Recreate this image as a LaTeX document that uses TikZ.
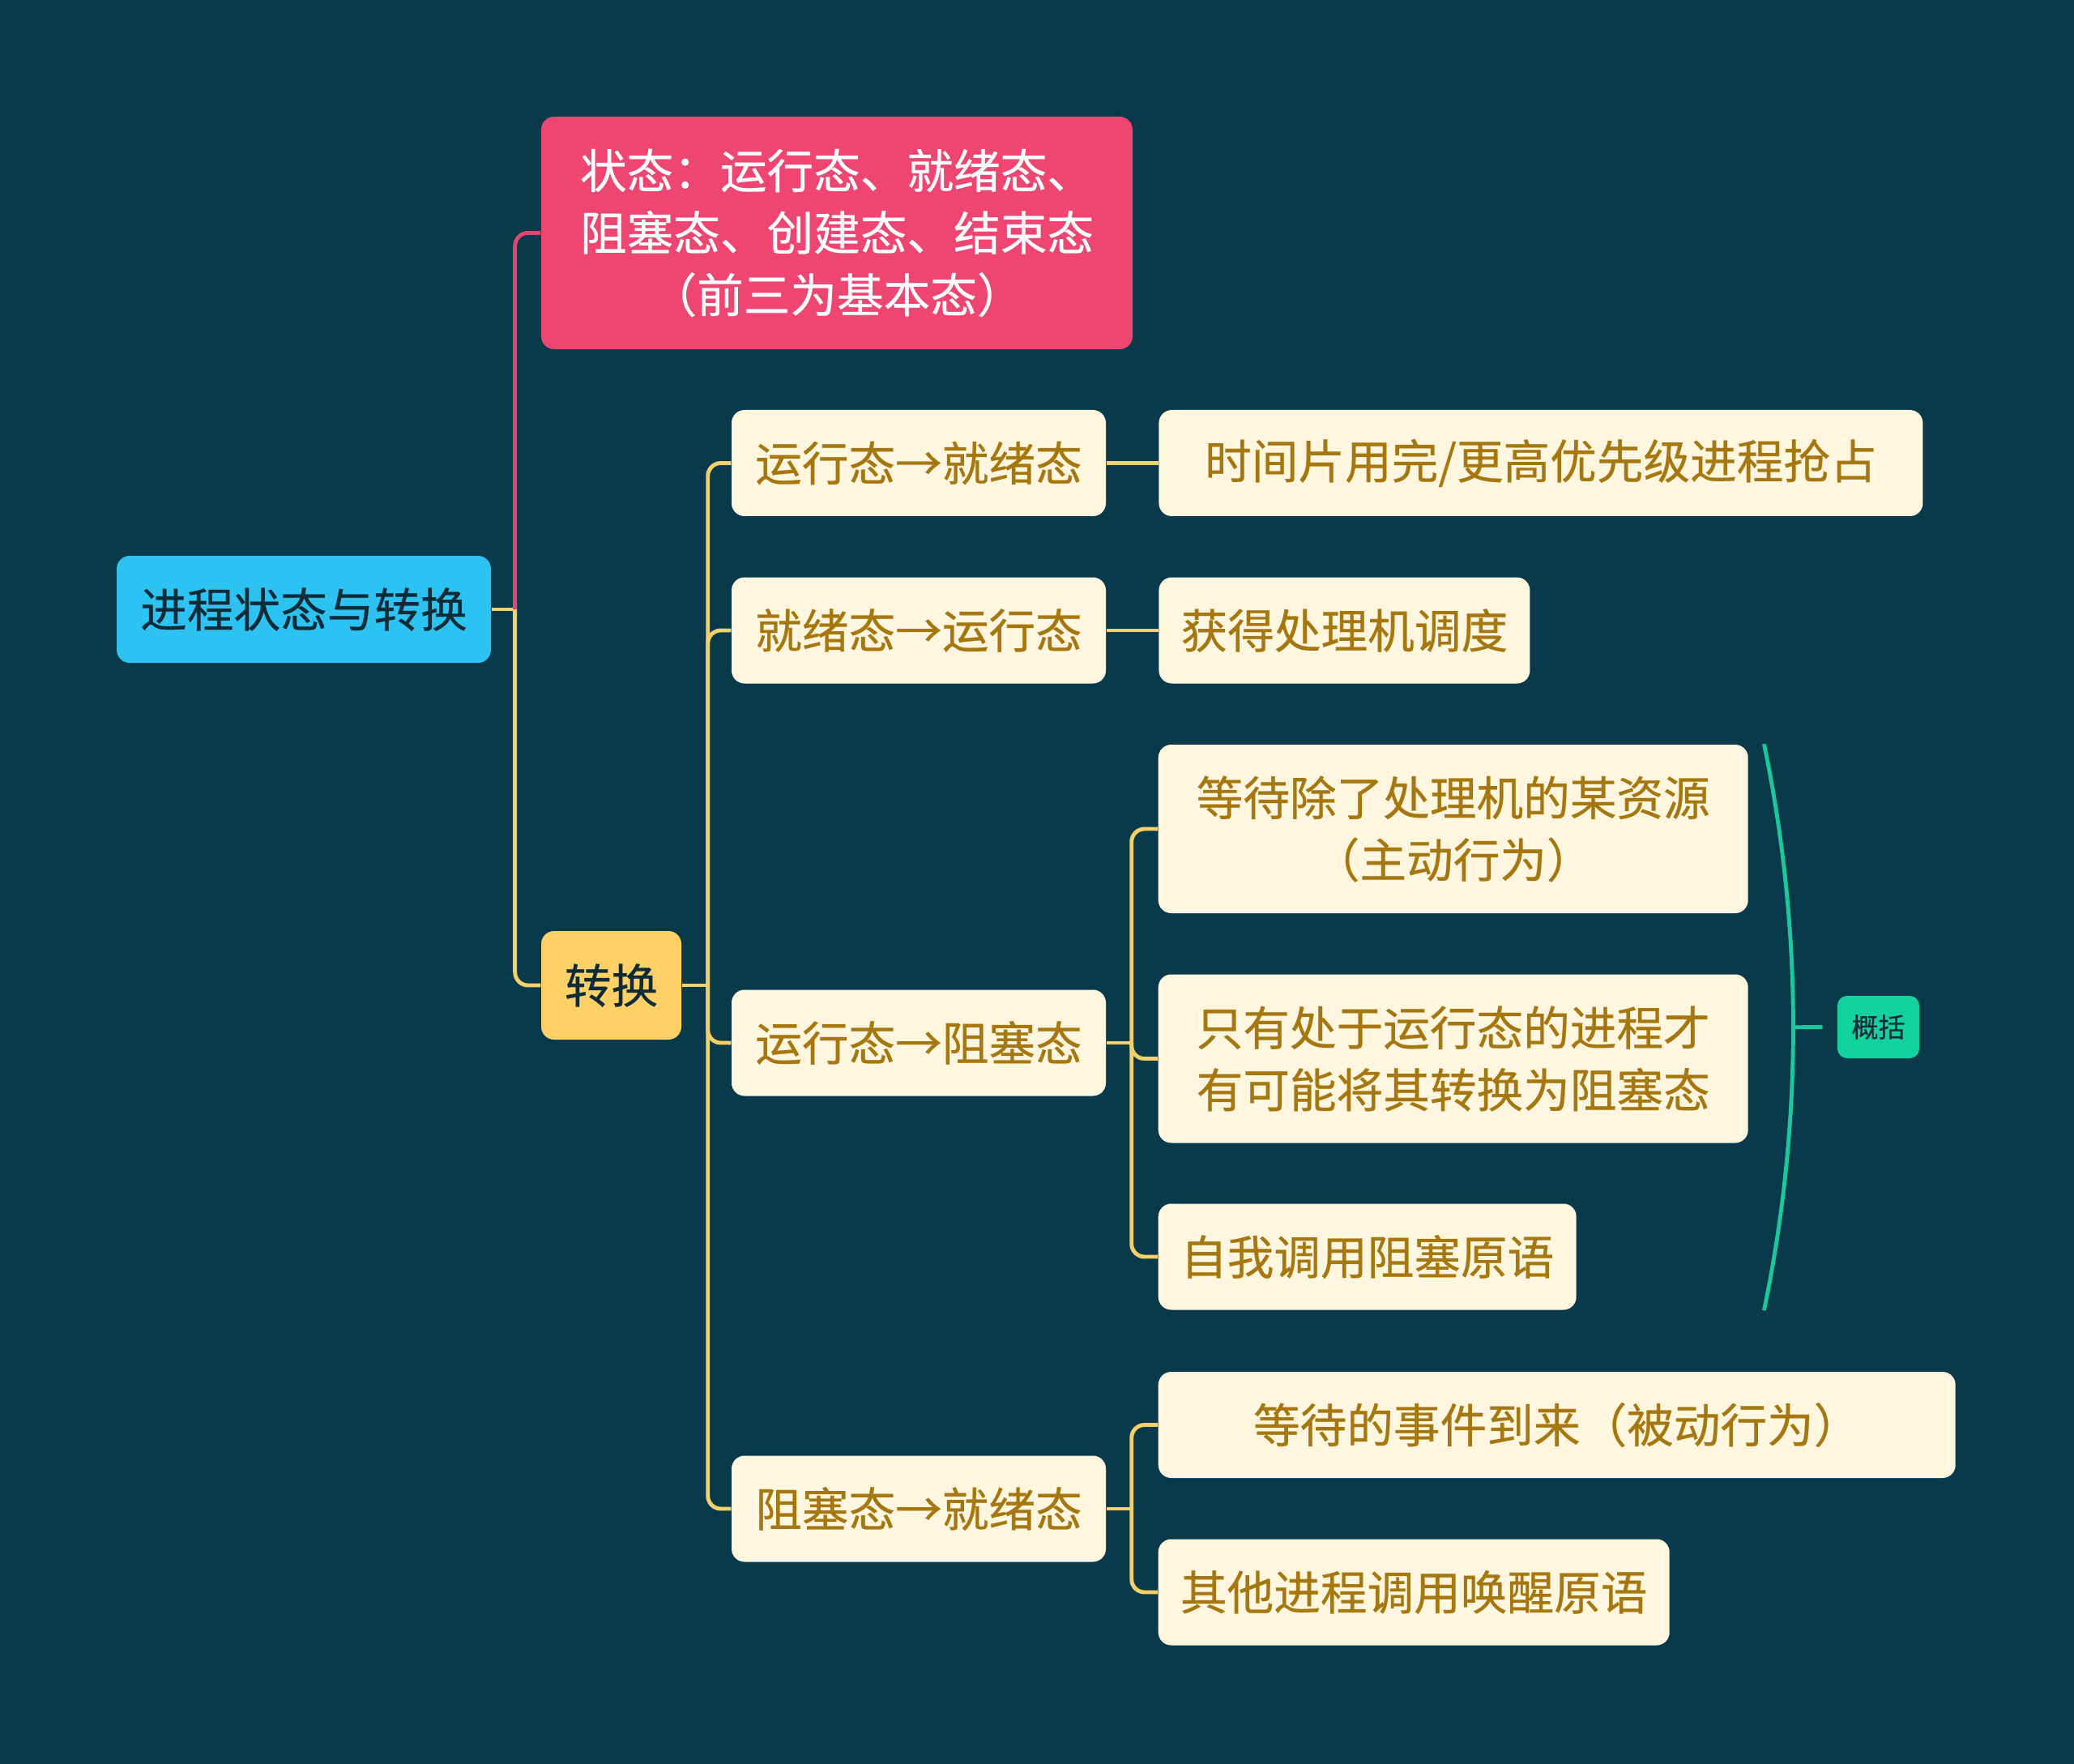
\documentclass[tikz,border=0pt]{standalone}
\usepackage{fontspec}
\setmainfont{Noto Sans CJK SC}[FakeBold=0.45]
\usetikzlibrary{positioning,calc}
\definecolor{bgNavy}{HTML}{083A4C}
\definecolor{topicCyan}{HTML}{2CC3F2}
\definecolor{stateRed}{HTML}{EE4670}
\definecolor{hubYellow}{HTML}{FED066}
\definecolor{cardCream}{HTML}{FEF6DF}
\definecolor{cardText}{HTML}{A7770F}
\definecolor{sumGreen}{HTML}{12D29E}
\definecolor{inkDark}{HTML}{0E2B38}
\definecolor{linkYellow}{HTML}{F3D06A}
\definecolor{linkRed}{HTML}{E2466F}
\definecolor{braceGreen}{HTML}{1BC79D}

\begin{document}
\begin{tikzpicture}[
  font=\fontsize{16.4}{21.8}\selectfont,
  box/.style={
    rectangle,
    rounded corners=1.6mm,
    inner sep=0pt,
    align=center,
    minimum height=1.31cm
  },
  topic/.style={box, fill=topicCyan, text=inkDark, minimum width=4.62cm, minimum height=1.32cm},
  card/.style={box, fill=stateRed, text=white, minimum width=7.30cm, minimum height=2.87cm},
  hub/.style={box, fill=hubYellow, text=inkDark, minimum width=1.73cm, minimum height=1.34cm},
  pair/.style={box, fill=cardCream, text=cardText, minimum width=4.62cm},
  leaf/.style={box, fill=cardCream, text=cardText, minimum width=#1},
  tall leaf/.style={leaf=#1, minimum height=2.08cm},
  note/.style={
    box,
    fill=sumGreen,
    text=inkDark,
    font=\fontsize{9.4}{11}\selectfont,
    rounded corners=1.2mm,
    minimum width=1.01cm,
    minimum height=0.77cm
  },
  link/.style={draw=linkYellow, line width=1.4pt, rounded corners=1.6mm},
  brace/.style={draw=braceGreen, line width=1.4pt}
]
  % Canvas
  \fill[bgNavy] (0,0) rectangle (25.6,-21.77);

  % Main topic and first level
  \node[topic] (topic) at (3.75,-7.52) {进程状态与转换};
  \node[card] (states) at (10.33,-2.875)
    {状态：运行态、就绪态、\\阻塞态、创建态、结束态\\（前三为基本态）};
  \node[hub] (trans) at (7.545,-12.16) {转换};

  % Transitions
  \node[pair] (runReady) at (11.34,-5.715) {运行态→就绪态};
  \node[pair] (readyRun) at (11.34,-7.78) {就绪态→运行态};
  \node[pair] (runBlock) at (11.34,-12.87) {运行态→阻塞态};
  \node[pair] (blockReady) at (11.34,-18.62) {阻塞态→就绪态};

  % Causes
  \node[leaf=9.43cm, right=0.64cm of runReady] (slice) {时间片用完/更高优先级进程抢占};
  \node[leaf=4.58cm, right=0.64cm of readyRun] (dispatch) {获得处理机调度};
  \node[tall leaf=7.28cm, anchor=west] (waitRes) at (14.29,-10.23)
    {等待除了处理机的某资源\\（主动行为）};
  \node[tall leaf=7.28cm, anchor=west] (onlyRun) at (14.29,-13.065)
    {只有处于运行态的进程才\\有可能将其转换为阻塞态};
  \node[leaf=5.16cm, anchor=west] (selfCall) at (14.29,-15.51) {自我调用阻塞原语};
  \node[leaf=9.84cm, anchor=west] (eventCome) at (14.29,-17.585) {等待的事件到来（被动行为）};
  \node[leaf=6.31cm, anchor=west] (wakeUp) at (14.29,-19.65) {其他进程调用唤醒原语};

  % Summary
  \node[note] (sumUp) at (23.185,-12.675) {概括};

  % Forks
  \coordinate (topicFork) at ($(topic.east)+(0.29,0)$);
  \coordinate (transFork) at ($(trans.east)+(0.32,0)$);
  \coordinate (blockFork) at ($(runBlock.east)+(0.31,0)$);
  \coordinate (readyFork) at ($(blockReady.east)+(0.31,0)$);

  % Links
  \draw[link] (topic.east) -- (topicFork);
  \draw[link, draw=linkRed] (topicFork) |- (states.west);
  \draw[link] (topicFork) |- (trans.west);

  \draw[link] (trans.east) -- (transFork);
  \draw[link] (transFork) |- (runReady.west);
  \draw[link] (transFork) |- (readyRun.west);
  \draw[link] (transFork) |- (runBlock.west);
  \draw[link] (transFork) |- (blockReady.west);

  \draw[link] (runReady) -- (slice);
  \draw[link] (readyRun) -- (dispatch);

  \draw[link] (runBlock.east) -- (blockFork);
  \draw[link] (blockFork) |- (waitRes.west);
  \draw[link] (blockFork) |- (onlyRun.west);
  \draw[link] (blockFork) |- (selfCall.west);

  \draw[link] (blockReady.east) -- (readyFork);
  \draw[link] (readyFork) |- (eventCome.west);
  \draw[link] (readyFork) |- (wakeUp.west);

  % Brace round the three causes
  \coordinate (braceTop) at ($(waitRes.north east)+(0.19,0)$);
  \coordinate (braceBot) at ($(waitRes.east |- selfCall.south)+(0.19,0)$);
  \coordinate (braceMid) at ($(braceTop)!0.5!(braceBot)+(0.36,0)$);
  \draw[brace] (braceTop) .. controls ($(braceTop)+(0.48,-2.3)$) and ($(braceBot)+(0.48,2.3)$) .. (braceBot);
  \draw[brace, shorten >=0.18cm] (braceMid) -- (sumUp.west);
\end{tikzpicture}
\end{document}
